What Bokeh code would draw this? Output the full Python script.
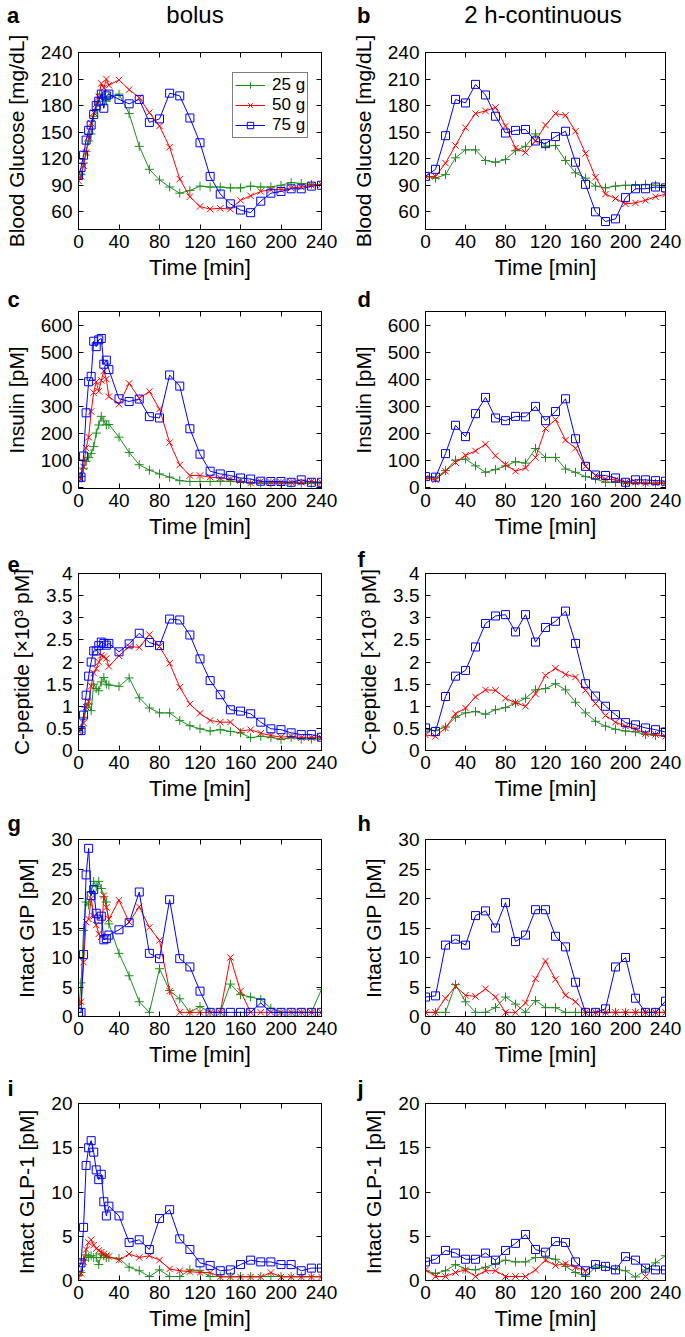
import numpy as np
from bokeh.plotting import figure
from bokeh.models import Range1d, FixedTicker, LinearAxis, Legend, LegendItem, Title, Div
from bokeh.layouts import column, row
from bokeh.embed import file_html
from bokeh.resources import INLINE

# ---------------- data ----------------
t_bolus = [0, 2.5, 5, 7.5, 10, 12.5, 15, 17.5, 20, 22.5, 25, 27.5, 30,
           40, 50, 60, 70, 80, 90, 100, 110, 120, 130, 140, 150, 160,
           170, 180, 190, 200, 210, 220, 230, 240]
t_cont = [0, 10, 20, 30, 40, 50, 60, 70, 80, 90, 100, 110, 120, 130, 140,
          150, 160, 170, 180, 190, 200, 210, 220, 230, 240]

dose_labels = ["25 g", "50 g", "75 g"]

glc_bolus_25 = [98, 102, 115, 128, 140, 148, 168, 175, 185, 193, 190, 185, 190,
                193, 171, 134, 108, 96, 88, 81, 84, 89, 88, 88, 87, 87, 89, 88, 88, 90, 93, 92, 91, 91]
glc_bolus_50 = [95, 100, 112, 127, 145, 160, 172, 182, 190, 205, 200, 210, 203,
                209, 198, 189, 172, 157, 133, 97, 77, 66, 63, 64, 63, 73, 78, 83, 85, 85, 87, 88, 90, 91]
glc_bolus_75 = [101, 110, 124, 141, 152, 158, 170, 180, 185, 193, 177, 191, 193,
                187, 182, 187, 161, 165, 194, 191, 166, 138, 100, 80, 69, 62, 59, 72, 81, 83, 86, 86, 89, 90]

glc_cont_25 = [100, 98, 102, 121, 130, 130, 118, 116, 119, 129, 134, 148, 134, 135, 118, 104, 98, 89, 87, 89, 90, 90, 91, 90, 89]
glc_cont_50 = [100, 100, 115, 135, 155, 171, 174, 178, 157, 132, 127, 140, 158, 171, 169, 151, 126, 99, 80, 75, 69, 70, 73, 77, 80]
glc_cont_75 = [100, 108, 146, 187, 183, 204, 192, 168, 149, 152, 153, 140, 137, 145, 151, 116, 91, 60, 49, 52, 76, 86, 86, 88, 87]

ins_bolus_25 = [30, 40, 70, 95, 110, 125, 150, 200, 230, 262, 245, 230, 232,
                185, 128, 83, 63, 49, 37, 24, 21, 21, 21, 22, 22, 18, 16, 15, 15, 15, 15, 15, 15, 15]
ins_bolus_50 = [45, 30, 75, 145, 185, 280, 350, 390, 355, 395, 430, 400, 335,
                307, 384, 329, 354, 289, 165, 82, 43, 43, 37, 34, 30, 24, 15, 21, 18, 18, 18, 18, 21, 18]
ins_bolus_75 = [35, 37, 115, 275, 390, 410, 540, 520, 545, 550, 455, 470, 435,
                327, 317, 326, 261, 256, 415, 374, 216, 122, 59, 49, 43, 34, 30, 22, 21, 21, 18, 27, 18, 18]

ins_cont_25 = [34, 34, 61, 100, 104, 79, 55, 65, 79, 94, 89, 143, 110, 110, 67, 55, 39, 30, 18, 18, 15, 15, 15, 15, 15]
ins_cont_50 = [34, 27, 59, 91, 118, 134, 159, 116, 83, 59, 71, 110, 217, 250, 174, 144, 77, 43, 30, 27, 18, 18, 15, 15, 15]
ins_cont_75 = [39, 37, 124, 229, 187, 272, 332, 256, 246, 262, 260, 299, 246, 280, 327, 179, 77, 45, 43, 34, 18, 27, 27, 24, 22]

cpep_bolus_25 = [0.45, 0.5, 0.75, 0.98, 1.05, 0.9, 1.5, 1.4, 1.35, 1.55, 1.65, 1.5, 1.48,
                 1.45, 1.64, 1.19, 0.96, 0.85, 0.85, 0.68, 0.56, 0.49, 0.44, 0.47, 0.43, 0.40, 0.29, 0.32, 0.30, 0.25, 0.29, 0.26, 0.26, 0.26]
cpep_bolus_50 = [0.44, 0.47, 0.62, 0.98, 1.1, 1.45, 1.75, 1.85, 2.0, 2.15, 2.12, 2.08, 1.9,
                 2.14, 2.35, 2.33, 2.62, 2.35, 1.97, 1.43, 1.05, 0.84, 0.68, 0.64, 0.64, 0.44, 0.47, 0.39, 0.34, 0.30, 0.32, 0.29, 0.29, 0.29]
cpep_bolus_75 = [0.45, 0.45, 0.8, 1.25, 1.68, 2.0, 2.25, 2.25, 2.37, 2.45, 2.42, 2.38, 2.42,
                 2.23, 2.41, 2.65, 2.44, 2.37, 2.97, 2.95, 2.61, 2.07, 1.58, 1.26, 0.92, 0.89, 0.83, 0.64, 0.49, 0.47, 0.40, 0.36, 0.36, 0.30]

cpep_cont_25 = [0.47, 0.45, 0.53, 0.75, 0.85, 0.88, 0.82, 0.92, 0.97, 1.07, 1.18, 1.37, 1.40, 1.51, 1.37, 1.09, 0.85, 0.66, 0.55, 0.48, 0.44, 0.42, 0.36, 0.34, 0.32]
cpep_cont_50 = [0.35, 0.32, 0.51, 0.83, 0.96, 1.21, 1.37, 1.36, 1.18, 1.08, 1.0, 1.28, 1.70, 1.86, 1.72, 1.66, 1.36, 1.06, 0.79, 0.64, 0.55, 0.49, 0.38, 0.36, 0.32]
cpep_cont_75 = [0.51, 0.43, 1.22, 1.68, 1.81, 2.34, 2.87, 3.04, 3.07, 2.68, 3.07, 2.45, 2.78, 2.92, 3.15, 2.42, 1.51, 1.23, 1.0, 0.81, 0.63, 0.58, 0.51, 0.47, 0.42]

gip_bolus_25 = [0.7, 5.7, 14.6, 19.4, 18.9, 21.1, 22.9, 22.0, 22.9, 21.7, 20.3, 19.4, 15.7,
                10.7, 6.9, 2.5, 0.7, 8.1, 4.4, 3.0, 0.7, 1.7, 0.7, 0.7, 5.5, 3.7, 3.3, 2.9, 1.4, 0.7, 0.7, 0.7, 0.7, 4.6]
gip_bolus_50 = [1.7, 2.5, 9.2, 16, 16.5, 20, 17, 15.5, 14, 13.5, 20.5, 18.5, 16.5,
                19.7, 16, 18.6, 15.1, 12.9, 4.3, 0.7, 0.7, 0.7, 0.7, 0.7, 10, 4.3, 0.7, 0.7, 0.7, 0.7, 0.7, 0.7, 0.7, 0.7]
gip_bolus_75 = [0.7, 0.7, 10.5, 24, 28.5, 20.5, 21.5, 17.5, 16.5, 17, 13, 13.2, 13.8,
                14.7, 15.9, 21.1, 10.7, 9.8, 19.8, 9.8, 8.4, 4.3, 0.7, 0.7, 0.7, 0.7, 0.7, 2.3, 0.7, 0.7, 0.7, 0.7, 0.7, 0.7]

gip_cont_25 = [0.7, 0.7, 0.7, 5.4, 2.5, 0.7, 0.7, 1.5, 3.3, 2.1, 0.7, 2.7, 1.5, 1.5, 0.7, 0.7, 0.7, 0.7, 0.7, 0.7, 0.7, 0.7, 0.7, 0.7, 0.7]
gip_cont_50 = [0.7, 0.7, 3.1, 5.1, 3.6, 3.4, 4.7, 3.3, 0.7, 0.7, 2.3, 6.4, 9.4, 6.3, 3.6, 2.5, 0.7, 0.7, 0.7, 0.7, 0.7, 0.7, 0.7, 0.7, 0.7]
gip_cont_75 = [3.3, 3.5, 12.1, 13.1, 12.1, 17.1, 17.9, 15.0, 19.3, 12.7, 13.8, 18.1, 18.1, 13.6, 11.8, 5.8, 0.7, 0.7, 1.3, 8.4, 10.0, 3.1, 0.7, 0.7, 2.6]

glp_bolus_25 = [0.6, 0.9, 2.3, 2.9, 2.6, 2.8, 2.6, 2.6, 1.8, 3.0, 2.8, 2.6, 2.6,
                2.5, 1.5, 1.1, 0.45, 1.2, 0.45, 0.45, 1.2, 1.1, 0.45, 0.45, 0.45, 0.45, 0.45, 0.45, 0.45, 0.45, 0.45, 0.45, 0.45, 0.45]
glp_bolus_50 = [0.3, 0.8, 2.1, 3.5, 4.3, 4.6, 4.0, 3.6, 3.4, 3.2, 3.0, 2.8, 2.7,
                2.3, 3.0, 2.6, 2.8, 2.3, 1.3, 1.1, 1.0, 0.9, 0.9, 0.4, 0.4, 0.4, 0.4, 0.4, 0.9, 0.4, 0.4, 0.4, 0.4, 0.4]
glp_bolus_75 = [1.5, 2.0, 6.0, 13.0, 15.0, 15.8, 14.5, 12.5, 11.4, 12.0, 8.9, 7.3, 8.4,
                7.3, 4.3, 4.6, 3.5, 7.0, 8.0, 4.7, 3.5, 2.0, 1.7, 1.1, 1.2, 1.8, 2.3, 2.1, 2.1, 1.8, 1.8, 1.1, 1.4, 1.4]

glp_cont_25 = [1.1, 0.8, 1.1, 1.8, 1.3, 1.2, 1.5, 1.9, 2.3, 2.1, 2.1, 2.6, 2.6, 2.4, 1.6, 0.9, 0.45, 1.5, 1.5, 1.3, 1.1, 0.4, 1.2, 2.0, 2.8]
glp_cont_50 = [1.2, 0.45, 0.45, 0.9, 1.2, 0.45, 1.1, 1.1, 0.45, 0.45, 0.45, 1.2, 2.3, 1.7, 1.9, 1.5, 1.1,
               None, None, None, None, None, 0.45, None, None]
glp_cont_75 = [2.1, 2.4, 3.4, 3.1, 2.4, 2.4, 3.1, 2.3, 3.4, 4.2, 5.2, 3.5, 3.2, 4.4, 4.3, 2.1, 1.1, 1.8, 1.6, 1.2, 2.7, 2.3, 1.4, 1.2, 1.2]

x_ticks = [0, 40, 80, 120, 160, 200, 240]
glc_ticks = [60, 90, 120, 150, 180, 210, 240]
ins_ticks = [0, 100, 200, 300, 400, 500, 600]
cpep_ticks = [0, 0.5, 1, 1.5, 2, 2.5, 3, 3.5, 4]
gip_ticks = [0, 5, 10, 15, 20, 25, 30]
glp_ticks = [0, 5, 10, 15, 20]

col_titles = ["bolus", "2 h-continuous"]

# ---------------- style ----------------
FONT = "Liberation Sans"
COLORS = ["#1a8f1a", "#ff0000", "#0000ff"]
MARKERS = ["cross", "x", "square"]
FH = 177
HEADER_H = 30
COLS = [dict(fw=243, mbl=78, mbr=21, lx=-71),
        dict(fw=240, mbl=83, mbr=20, lx=-68)]
ROWS = [dict(mbt=22, mbb=55, so=0), dict(mbt=27, mbb=55, so=0), dict(mbt=30, mbb=55, so=3),
        dict(mbt=34, mbb=55, so=7), dict(mbt=32, mbb=55, so=5)]


def fmt(v):
    return "%g" % v


def make_panel(ci, ri, t, series, yr, yticks, ylab, letter=None, legend=False):
    c = COLS[ci]
    r = ROWS[ri]
    p = figure(frame_width=c["fw"], frame_height=FH, x_range=Range1d(0, 240), y_range=Range1d(*yr),
               output_backend="svg", toolbar_location=None,
               min_border_left=c["mbl"], min_border_right=c["mbr"],
               min_border_top=r["mbt"], min_border_bottom=r["mbb"],
               background_fill_color="white", border_fill_color="white")
    p.grid.visible = False
    p.outline_line_color = "black"
    p.outline_line_width = 1

    xa = p.xaxis[0]
    xa.ticker = FixedTicker(ticks=x_ticks)
    xa.major_label_overrides = {v: fmt(v) for v in x_ticks}
    xa.axis_label = "Time [min]"
    ya = p.yaxis[0]
    ya.ticker = FixedTicker(ticks=yticks)
    ya.major_label_overrides = {v: fmt(v) for v in yticks}
    ya.axis_label = ylab
    for ax in (xa, ya):
        ax.major_tick_in = 5
        ax.major_tick_out = 0
        ax.minor_tick_line_color = None
        ax.axis_line_color = "black"
        ax.major_tick_line_color = "black"
        ax.major_label_text_font = FONT
        ax.major_label_text_font_size = "19px"
        ax.major_label_text_color = "black"
        ax.axis_label_text_font = FONT
        ax.axis_label_text_font_style = "normal"
        ax.axis_label_text_color = "black"
    xa.axis_label_text_font_size = "22px"
    ya.axis_label_text_font_size = "21px"
    xa.major_label_standoff = 5
    xa.axis_label_standoff = 4
    ya.major_label_standoff = 6
    ya.axis_label_standoff = 10

    # mirrored ticks on right and top
    for side, tk in (("right", yticks), ("above", x_ticks)):
        ax = LinearAxis(ticker=FixedTicker(ticks=tk), major_label_text_font_size="0px",
                        major_label_standoff=0, major_tick_in=5, major_tick_out=0,
                        minor_tick_line_color=None, axis_line_color="black",
                        major_tick_line_color="black")
        ax.major_label_overrides = {v: "" for v in tk}
        p.add_layout(ax, side)

    items = []
    for k, ys in enumerate(series):
        yv = np.array([np.nan if v is None else v for v in ys], dtype=float)
        ln = p.line(t, yv, line_color=COLORS[k], line_width=1)
        sc = p.scatter(t, yv, marker=MARKERS[k], size=8 if MARKERS[k] == "square" else 9,
                       line_color=COLORS[k], fill_color=None, line_width=1)
        items.append(LegendItem(label=dose_labels[k], renderers=[ln, sc]))

    if legend:
        lg = Legend(items=items, location=(154, 91), orientation="vertical",
                    border_line_color="black", border_line_width=1, background_fill_color="white",
                    background_fill_alpha=1.0, padding=2, spacing=0, margin=0,
                    label_text_font=FONT, label_text_font_size="17px", label_text_color="black",
                    glyph_width=30, glyph_height=16, label_height=16, label_standoff=7)
        p.add_layout(lg, "center")

    if letter is not None:
        p.add_layout(Title(text=letter, align="left", offset=c["lx"], standoff=r["so"],
                           text_font=FONT, text_font_size="22px", text_font_style="bold",
                           text_color="black"), "above")
    return p


pa = make_panel(0, 0, t_bolus, [glc_bolus_25, glc_bolus_50, glc_bolus_75], (40, 240), glc_ticks,
                "Blood Glucose [mg/dL]", legend=True)
pb = make_panel(1, 0, t_cont, [glc_cont_25, glc_cont_50, glc_cont_75], (40, 240), glc_ticks,
                "Blood Glucose [mg/dL]")
pc = make_panel(0, 1, t_bolus, [ins_bolus_25, ins_bolus_50, ins_bolus_75], (-5, 650), ins_ticks,
                "Insulin [pM]", "c")
pd_ = make_panel(1, 1, t_cont, [ins_cont_25, ins_cont_50, ins_cont_75], (-5, 650), ins_ticks,
                 "Insulin [pM]", "d")
pe = make_panel(0, 2, t_bolus, [cpep_bolus_25, cpep_bolus_50, cpep_bolus_75], (0, 4), cpep_ticks,
                "C-peptide [×10³ pM]", "e")
pf = make_panel(1, 2, t_cont, [cpep_cont_25, cpep_cont_50, cpep_cont_75], (0, 4), cpep_ticks,
                "C-peptide [×10³ pM]", "f")
pg = make_panel(0, 3, t_bolus, [gip_bolus_25, gip_bolus_50, gip_bolus_75], (0, 30), gip_ticks,
                "Intact GIP [pM]", "g")
ph = make_panel(1, 3, t_cont, [gip_cont_25, gip_cont_50, gip_cont_75], (0, 30), gip_ticks,
                "Intact GIP [pM]", "h")
pi_ = make_panel(0, 4, t_bolus, [glp_bolus_25, glp_bolus_50, glp_bolus_75], (0, 20), glp_ticks,
                 "Intact GLP-1 [pM]", "i")
pj = make_panel(1, 4, t_cont, [glp_cont_25, glp_cont_50, glp_cont_75], (0, 20), glp_ticks,
                "Intact GLP-1 [pM]", "j")

FF = "font-family:'Liberation Sans',Arial,sans-serif;color:black;position:absolute;white-space:nowrap;"
header_html = (
    '<div style="position:relative;width:685px;height:%dpx;">' % HEADER_H +
    '<div style="' + FF + 'line-height:1.15;left:7px;top:3px;font-size:22px;font-weight:bold;">a</div>'
    '<div style="' + FF + 'line-height:1.15;left:95px;width:200px;text-align:center;top:1px;font-size:24px;">' + col_titles[0] + '</div>'
    '<div style="' + FF + 'line-height:1.15;left:357px;top:3px;font-size:22px;font-weight:bold;">b</div>'
    '<div style="' + FF + 'line-height:1.15;left:443px;width:200px;text-align:center;top:1px;font-size:24px;">' + col_titles[1] + '</div>'
    '</div>'
)
header = Div(text=header_html, width=685, height=HEADER_H, margin=0)

layout = column(header, row(pa, pb), row(pc, pd_), row(pe, pf), row(pg, ph), row(pi_, pj))
open("out.html", "w").write(file_html(layout, INLINE))
